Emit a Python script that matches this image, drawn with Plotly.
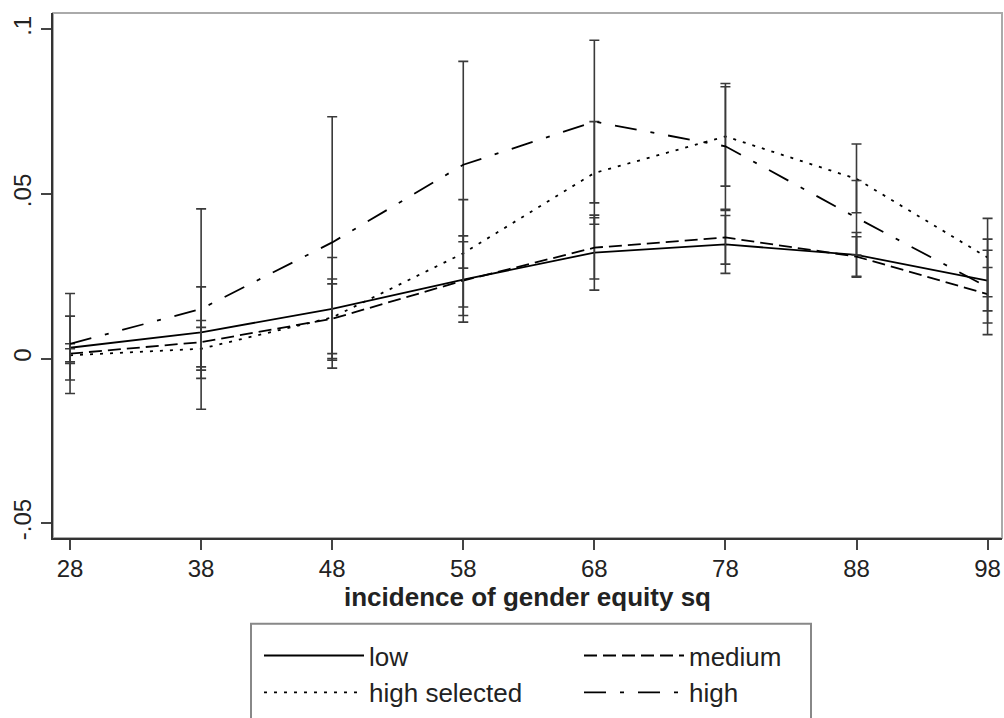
import plotly.graph_objects as go

x_vals = [28, 38, 48, 58, 68, 78, 88, 98]

low = [0.0033, 0.0080, 0.0151, 0.0240, 0.0322, 0.0347, 0.0315, 0.0237]
low_hi = [0.0129, 0.0218, 0.0307, 0.0373, 0.0436, 0.0435, 0.0383, 0.0329]
low_lo = [-0.0065, -0.0060, -0.0005, 0.0111, 0.0208, 0.0259, 0.0247, 0.0145]

medium = [0.0015, 0.0050, 0.0121, 0.0237, 0.0337, 0.0368, 0.0310, 0.0196]
medium_hi = [0.0045, 0.0116, 0.0242, 0.0355, 0.0428, 0.0450, 0.0370, 0.0277]
medium_lo = [-0.0015, -0.0025, 0.0000, 0.0131, 0.0242, 0.0287, 0.0250, 0.0108]

high_sel = [0.0010, 0.0030, 0.0125, 0.0320, 0.0564, 0.0675, 0.0546, 0.0307]
high_sel_hi = [0.0030, 0.0095, 0.0227, 0.0483, 0.0720, 0.0826, 0.0652, 0.0426]
high_sel_lo = [-0.0010, -0.0035, 0.0015, 0.0157, 0.0408, 0.0524, 0.0443, 0.0188]

high = [0.0045, 0.0151, 0.0353, 0.0589, 0.0720, 0.0645, 0.0428, 0.0217]
high_hi = [0.0198, 0.0455, 0.0735, 0.0903, 0.0967, 0.0836, 0.0541, 0.0363]
high_lo = [-0.0106, -0.0154, -0.0029, 0.0275, 0.0473, 0.0454, 0.0315, 0.0073]

x_ticks = [28, 38, 48, 58, 68, 78, 88, 98]
y_ticks = [-0.05, 0, 0.05, 0.1]
y_tick_labels = ["-.05", "0", ".05", ".1"]

series = [
    ("low", low, low_hi, low_lo, "solid"),
    ("medium", medium, medium_hi, medium_lo, "13px,6px"),
    ("high selected", high_sel, high_sel_hi, high_sel_lo, "3px,7px"),
    ("high", high, high_hi, high_lo, "22px,14px,4px,14px"),
]

FONT = "Liberation Sans, Arial, sans-serif"

# legend box in paper coordinates (plot area spans x 53..1002, y 13..546 px)
LEG_X0 = (251 - 53) / 949
LEG_X1 = (811 - 53) / 949
LEG_Y1 = (546 - 633) / 533
LEG_Y0 = (546 - 740) / 533

fig = go.Figure()
for name, mean, hi, lo, dash in series:
    fig.add_trace(go.Scatter(
        x=x_vals, y=mean, name=name, mode="lines",
        line=dict(color="black", width=1.8, dash=dash),
        error_y=dict(
            type="data", symmetric=False,
            array=[h - m for h, m in zip(hi, mean)],
            arrayminus=[m - l for m, l in zip(mean, lo)],
            color="#3a3a3a", thickness=1.6, width=5,
        ),
    ))

fig.update_layout(
    width=1004, height=718,
    margin=dict(l=53, r=2, t=13, b=172),
    paper_bgcolor="white", plot_bgcolor="white",
    font=dict(family=FONT, size=24, color="#222"),
    showlegend=True,
    legend=dict(
        orientation="h", x=LEG_X0 + 8 / 949, xanchor="left", y=LEG_Y1 - 0.016, yanchor="top",
        bgcolor="rgba(0,0,0,0)", borderwidth=0,
        font=dict(family=FONT, size=26, color="#222"),
        itemwidth=100, entrywidth=205, entrywidthmode="pixels",
        traceorder="normal",
    ),
    shapes=[
        dict(type="rect", xref="paper", yref="paper", x0=0, x1=1, y0=0, y1=1,
             line=dict(color="#aaaaaa", width=2), layer="below"),
        dict(type="rect", xref="paper", yref="paper", x0=LEG_X0, x1=LEG_X1,
             y0=LEG_Y0, y1=LEG_Y1, line=dict(color="#888888", width=2), layer="below"),
    ],
)

fig.update_xaxes(
    range=[26.7, 99.1], tickvals=x_ticks, ticktext=[str(v) for v in x_ticks],
    ticks="outside", ticklen=10, tickwidth=1.5, tickcolor="#444",
    ticklabelstandoff=-2, tickfont=dict(size=24), ticklabeloverflow="allow",
    showline=True, linecolor="#333", linewidth=2, showgrid=False, zeroline=False,
    title=dict(text="<b>incidence of gender equity sq</b>", standoff=6,
               font=dict(family=FONT, size=26, color="#222")),
)
fig.update_yaxes(
    range=[-0.0545, 0.105], tickvals=y_ticks, ticktext=y_tick_labels,
    tickangle=-90, ticks="outside", ticklen=10, tickwidth=1.5, tickcolor="#444",
    tickfont=dict(size=24), ticklabeloverflow="allow",
    showline=True, linecolor="#333", linewidth=2, showgrid=False, zeroline=False,
)

fig.write_html(
    "out.html",
    config={"displayModeBar": False},
    post_script="document.body.style.margin='0px';document.body.style.overflow='hidden';",
)
